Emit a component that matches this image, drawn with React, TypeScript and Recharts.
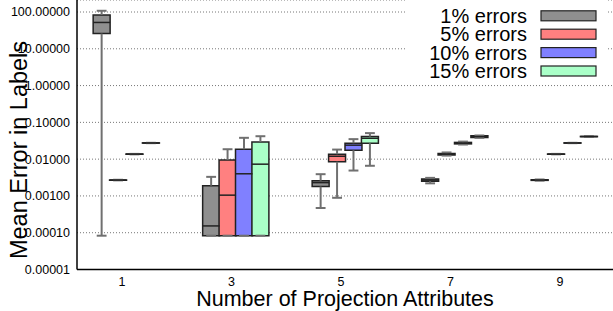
import React from 'react';
import {
  ComposedChart,
  XAxis,
  YAxis,
  CartesianGrid,
  ReferenceArea,
  ReferenceLine,
  Legend,
  Label,
} from 'recharts';

// Categories on the x axis
const categories = [1, 3, 5, 7, 9];
const xTicks = [1, 3, 5, 7, 9];
const yTicks = [0.00001, 0.0001, 0.001, 0.01, 0.1, 1, 10, 100];

const seriesNames = ['1% errors', '5% errors', '10% errors', '15% errors'];
const seriesColors = ['#8f8f8f', '#ff8080', '#8080ff', '#aaffc8'];
const seriesOffsets = [-0.37, -0.07, 0.23, 0.53];

// Per category: [low whisker, Q1, median, Q3, high whisker]
const errors1 = [
  [0.000083, 26, 52, 83, 108],
  [0.000083, 0.000083, 0.000153, 0.0019, 0.0033],
  [0.00047, 0.0018, 0.0023, 0.0026, 0.0039],
  [0.0022, 0.0025, 0.0027, 0.0029, 0.0031],
  [0.0026, 0.00265, 0.0027, 0.00275, 0.0028],
];
const errors5 = [
  [0.00265, 0.00268, 0.0027, 0.00272, 0.00275],
  [0.000083, 0.000083, 0.00105, 0.0095, 0.0186],
  [0.00089, 0.0085, 0.012, 0.0136, 0.0182],
  [0.0125, 0.013, 0.0137, 0.0143, 0.0152],
  [0.0135, 0.0136, 0.0137, 0.0138, 0.0139],
];
const errors10 = [
  [0.0135, 0.0136, 0.0137, 0.0138, 0.0139],
  [0.000083, 0.000083, 0.004, 0.0186, 0.038],
  [0.0049, 0.0174, 0.024, 0.027, 0.035],
  [0.025, 0.026, 0.0272, 0.0285, 0.03],
  [0.0272, 0.0273, 0.0275, 0.0277, 0.0278],
];
const errors15 = [
  [0.0272, 0.0273, 0.0275, 0.0277, 0.0278],
  [0.000083, 0.000083, 0.0073, 0.0293, 0.042],
  [0.0066, 0.027, 0.037, 0.041, 0.051],
  [0.038, 0.039, 0.041, 0.043, 0.044],
  [0.0405, 0.0408, 0.0412, 0.0415, 0.042],
];

const allSeries = [errors1, errors5, errors10, errors15];

const FONT = '"Liberation Sans", Arial, Helvetica, sans-serif';
const HALF_W = 0.155;
const CAP_W = 0.09;
const WHISKER = '#707070';
const BORDER = '#222';

function renderBoxes() {
  const out: React.ReactNode[] = [];
  allSeries.forEach((series, s) => {
    series.forEach((stats, i) => {
      const [low, q1, med, q3, high] = stats;
      const x = categories[i] + seriesOffsets[s];
      const key = `${s}-${i}`;
      out.push(
        <ReferenceLine key={`wl${key}`} segment={[{ x, y: low }, { x, y: q1 }]} stroke={WHISKER} strokeWidth={2} ifOverflow="visible" />,
        <ReferenceLine key={`wh${key}`} segment={[{ x, y: q3 }, { x, y: high }]} stroke={WHISKER} strokeWidth={2} ifOverflow="visible" />,
        <ReferenceLine key={`cl${key}`} segment={[{ x: x - CAP_W, y: low }, { x: x + CAP_W, y: low }]} stroke={WHISKER} strokeWidth={2} ifOverflow="visible" />,
        <ReferenceLine key={`ch${key}`} segment={[{ x: x - CAP_W, y: high }, { x: x + CAP_W, y: high }]} stroke={WHISKER} strokeWidth={2} ifOverflow="visible" />,
        <ReferenceArea key={`b${key}`} x1={x - HALF_W} x2={x + HALF_W} y1={q1} y2={q3} fill={seriesColors[s]} fillOpacity={1} stroke={BORDER} strokeWidth={1.5} ifOverflow="visible" />,
        <ReferenceLine key={`m${key}`} segment={[{ x: x - HALF_W, y: med }, { x: x + HALF_W, y: med }]} stroke={BORDER} strokeWidth={1.5} ifOverflow="visible" />
      );
    });
  });
  return out;
}

function LegendContent() {
  const rows = [15.8, 34.2, 52.6, 71];
  return (
    <svg width={201} height={82} style={{ display: 'block', background: '#fff' }}>
      {seriesNames.map((name, i) => (
        <g key={name}>
          <text x={122} y={rows[i] + 7} textAnchor="end" fontSize={20} fontFamily={FONT} fill="#000">
            {name}
          </text>
          <rect x={136} y={rows[i] - 5} width={55} height={10} fill={seriesColors[i]} stroke={BORDER} strokeWidth={1.2} />
        </g>
      ))}
    </svg>
  );
}

export default function App() {
  return (
    <div style={{ position: 'absolute', left: 0, top: 0, width: 613, height: 311, background: '#fff' }}>
      <ComposedChart width={613} height={311} margin={{ top: 0, right: 0, bottom: 0, left: 0 }}>
        <CartesianGrid horizontal vertical={false} stroke="#777" strokeDasharray="1 2" />
        <XAxis
          type="number"
          dataKey="x"
          domain={[0.18, 9.97]}
          ticks={xTicks}
          interval={0}
          allowDataOverflow
          height={41.5}
          tickLine={false}
          axisLine={{ stroke: '#000', strokeWidth: 1.5 }}
          tick={{ fontSize: 12.5, fill: '#000', fontFamily: FONT }}
          tickMargin={1.5}
        >
          <Label
            value="Number of Projection Attributes"
            position="insideBottom"
            offset={5.5}
            style={{ fontSize: 21.5, fill: '#000', fontFamily: FONT }}
          />
        </XAxis>
        <YAxis
          type="number"
          scale="log"
          domain={[0.00001, 212]}
          ticks={yTicks}
          interval={0}
          allowDataOverflow
          width={77}
          tickLine={false}
          axisLine={{ stroke: '#000', strokeWidth: 1.5 }}
          tick={{ fontSize: 12.5, fill: '#000', fontFamily: FONT }}
          tickMargin={1}
          tickFormatter={(v: number) => v.toFixed(5)}
        >
          <Label
            content={(props: any) => {
              const vb = props.viewBox || { x: 0, y: 0 };
              const cx = vb.x + 19;
              const cy = vb.y + 150;
              return (
                <text
                  x={cx}
                  y={cy}
                  transform={`rotate(-90, ${cx}, ${cy})`}
                  textAnchor="middle"
                  dominantBaseline="central"
                  fontSize={23.5}
                  fontFamily={FONT}
                  fill="#000"
                >
                  Mean Error in Labels
                </text>
              );
            }}
          />
        </YAxis>
        {renderBoxes()}
        <Legend
          layout="vertical"
          align="center"
          verticalAlign="middle"
          wrapperStyle={{ position: 'absolute', left: 405, top: 0, width: 201, height: 82 }}
          content={() => <LegendContent />}
        />
      </ComposedChart>
    </div>
  );
}
